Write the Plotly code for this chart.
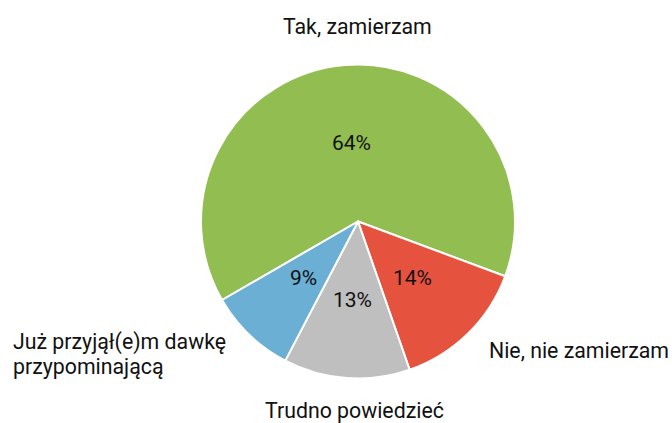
import math
import plotly.graph_objects as go

labels = ["Tak, zamierzam", "Nie, nie zamierzam", "Trudno powiedzieć", "Już przyjął(e)m dawkę<br>przypominającą"]
values = [64, 14, 13, 9]
colors = ["#92BD50", "#E5533F", "#BFBFBF", "#6BAFD4"]

W, H = 672, 423
cx, cy, r = 358, 221.5, 157
start = 240

fig = go.Figure(go.Pie(
    labels=labels,
    values=values,
    sort=False,
    direction="clockwise",
    rotation=start,
    marker=dict(colors=colors, line=dict(color="white", width=2)),
    textinfo="none",
    showlegend=False,
    hoverinfo="label+percent",
    domain=dict(x=[(cx - r) / W, (cx + r) / W], y=[(H - cy - r) / H, (H - cy + r) / H]),
))

# percentage labels at half radius, at each slice's mid-angle
total = sum(values)
acc = 0
for v in values:
    mid = math.radians(start + (acc + v / 2) / total * 360)
    acc += v
    px = cx + 0.5 * r * math.sin(mid)
    py = cy - 0.5 * r * math.cos(mid)
    fig.add_annotation(
        text=f"{round(v / total * 100)}%", x=px / W, y=1 - py / H, xref="paper", yref="paper",
        xanchor="center", yanchor="middle", showarrow=False,
        font=dict(family="Roboto", size=21, color="#111111"),
    )

label_pos = [
    dict(x=357, y=27, xanchor="center"),
    dict(x=579, y=350, xanchor="center"),
    dict(x=354, y=410, xanchor="center"),
    dict(x=11, y=342, xanchor="left"),
]
line_gap = 24.5
for lab, p in zip(labels, label_pos):
    for i, line in enumerate(lab.split("<br>")):
        fig.add_annotation(
            text=line, x=p["x"] / W, y=1 - (p["y"] + i * line_gap) / H, xref="paper", yref="paper",
            xanchor=p["xanchor"], yanchor="middle", align="left", showarrow=False,
            font=dict(family="Roboto", size=21.3, color="#111111"),
        )

fig.update_layout(
    width=W, height=H,
    margin=dict(l=0, r=0, t=0, b=0),
    paper_bgcolor="white", plot_bgcolor="white",
)
fig.write_html(
    "out.html",
    config={"displayModeBar": False},
    post_script="document.body.style.margin='0';document.body.style.overflow='hidden';",
)
